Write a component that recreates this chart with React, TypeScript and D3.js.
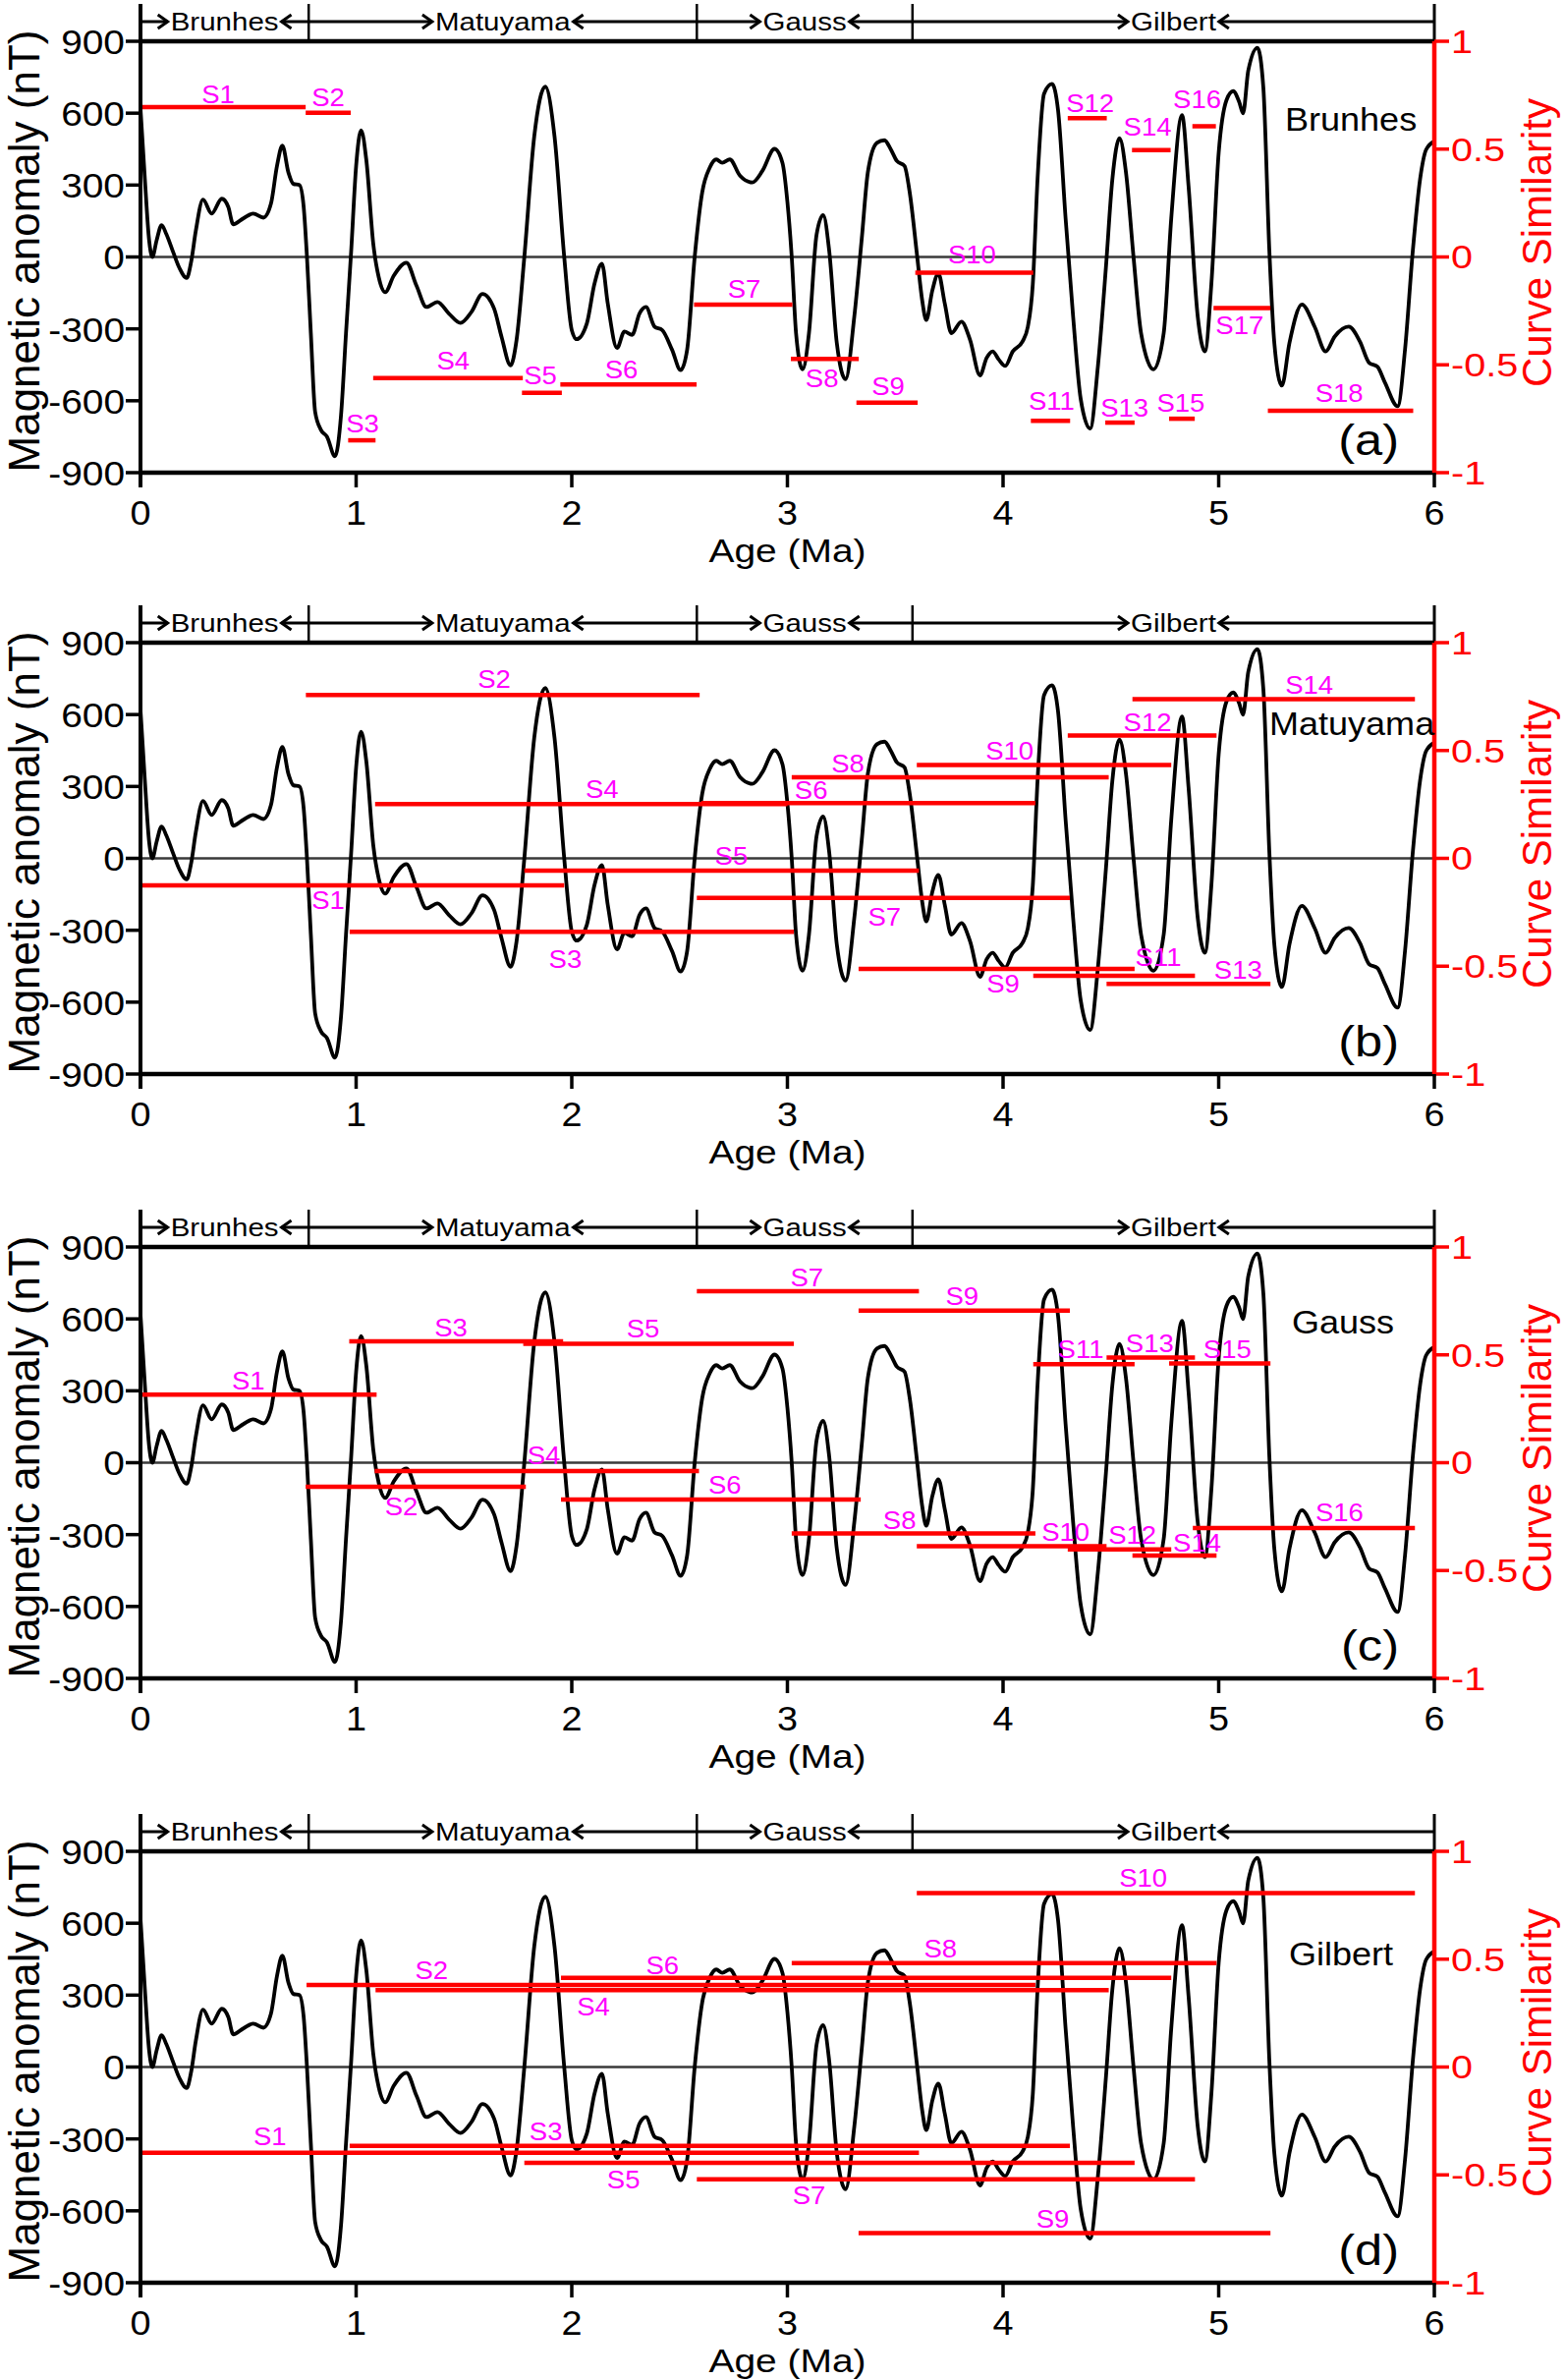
import React from 'react';
import * as d3 from 'd3';

// ---------------- DATA ----------------
const ageTicks = [0, 1, 2, 3, 4, 5, 6];
const nTTicks = [-900, -600, -300, 0, 300, 600, 900];
const simTicks = [-1, -0.5, 0, 0.5, 1];
const simTickLabels = ['-1', '-0.5', '0', '0.5', '1'];

const periodBounds = [0, 0.78, 2.58, 3.58, 6];
const periodNames = ['Brunhes', 'Matuyama', 'Gauss', 'Gilbert'];

const templateNames = ['Brunhes', 'Matuyama', 'Gauss', 'Gilbert'];
const panelLetters = ['(a)', '(b)', '(c)', '(d)'];

const anomalyAge = [
  0, 0.02, 0.04, 0.055, 0.075, 0.098, 0.12, 0.15, 0.18, 0.214, 0.235, 0.256, 0.29, 0.33, 0.377, 0.407, 0.43,
  0.477, 0.523, 0.57, 0.605, 0.633, 0.658, 0.686, 0.709, 0.737, 0.756, 0.772, 0.79, 0.81, 0.837, 0.865, 0.902,
  0.93, 0.953, 0.977, 1.0, 1.023, 1.047, 1.08, 1.105, 1.135, 1.174, 1.233, 1.28, 1.326, 1.377, 1.43, 1.484,
  1.535, 1.586, 1.64, 1.674, 1.716, 1.744, 1.78, 1.826, 1.877, 1.92, 1.965, 2.0, 2.023, 2.07, 2.105, 2.14,
  2.167, 2.21, 2.244, 2.28, 2.314, 2.344, 2.384, 2.419, 2.465, 2.505, 2.535, 2.57, 2.605, 2.64, 2.67, 2.698,
  2.733, 2.78, 2.837, 2.884, 2.94, 2.977, 3.0, 3.02, 3.04, 3.07, 3.1, 3.135, 3.166, 3.194, 3.229, 3.27, 3.31,
  3.345, 3.373, 3.415, 3.45, 3.48, 3.508, 3.543, 3.567, 3.602, 3.625, 3.644, 3.672, 3.7, 3.73, 3.76, 3.807,
  3.847, 3.893, 3.924, 3.952, 3.98, 4.01, 4.045, 4.09, 4.115, 4.138, 4.16, 4.19, 4.227, 4.255, 4.29, 4.325,
  4.36, 4.404, 4.44, 4.477, 4.507, 4.54, 4.57, 4.605, 4.64, 4.698, 4.745, 4.78, 4.83, 4.86, 4.903, 4.936,
  4.966, 5.0, 5.036, 5.067, 5.095, 5.113, 5.137, 5.18, 5.207, 5.235, 5.258, 5.293, 5.328, 5.386, 5.445,
  5.496, 5.538, 5.603, 5.655, 5.697, 5.736, 5.771, 5.83, 5.864, 5.9, 5.934, 5.962, 6.0,
];
const anomalyNT = [
  620, 330, 70, 0, 70, 133, 95, 24, -45, -88, -20, 106, 239, 181, 243, 209, 136,
  161, 181, 164, 222, 380, 465, 352, 305, 300, 216, 0, -318, -647, -722, -750, -832,
  -660, -318, 24, 380, 528, 407, 51, -85, -147, -79, -24, -120, -209, -188, -236, -275,
  -229, -154, -216, -332, -452, -346, 0, 503, 711, 503, 0, -305, -343, -277, -113, -28,
  -195, -380, -311, -325, -236, -209, -291, -305, -387, -472, -387, 0, 270, 373, 407, 393,
  407, 339, 311, 359, 451, 393, 229, 0, -318, -469, -318, 92, 175, 24, -359, -510, -250,
  79, 353, 476, 487, 448, 400, 380, 270, 0, -181, -263, -140, -69, -195, -318, -270,
  -346, -494, -421, -394, -428, -455, -394, -353, -291, -113, 325, 681, 722, 613, 161, -250,
  -592, -716, -455, -44, 325, 496, 353, 0, -318, -469, -318, 161, 592, 298, -250, -394,
  -113, 435, 654, 692, 647, 599, 777, 873, 708, 24, -359, -537, -359, -198, -291,
  -394, -332, -291, -353, -441, -458, -524, -623, -387, 24, 325, 448, 483,
];

// segments: [start age, end age, similarity]
const segmentsA = [
  [0, 0.766, 0.695], [0.766, 0.975, 0.669], [0.963, 1.09, -0.85], [1.079, 1.773, -0.562],
  [1.769, 1.954, -0.63], [1.947, 2.579, -0.591], [2.567, 3.023, -0.221], [3.016, 3.331, -0.473],
  [3.32, 3.604, -0.675], [3.593, 4.14, -0.073], [4.129, 4.311, -0.76], [4.3, 4.481, 0.644],
  [4.474, 4.61, -0.768], [4.598, 4.777, 0.495], [4.77, 4.889, -0.75], [4.878, 4.987, 0.606],
  [4.976, 5.24, -0.237], [5.228, 5.902, -0.713],
];
const labelsA = [
  [0.36, 0.714], [0.87, 0.699], [1.03, -0.812], [1.45, -0.522], [1.854, -0.592], [2.23, -0.562],
  [2.8, -0.191], [3.16, -0.603], [3.467, -0.641], [3.856, -0.031], [4.225, -0.707], [4.404, 0.672],
  [4.563, -0.74], [4.67, 0.562], [4.824, -0.718], [4.9, 0.69], [5.097, -0.359], [5.559, -0.672],
];
const segmentsB = [
  [0, 1.965, -0.125], [0.767, 2.593, 0.757], [0.97, 3.03, -0.341], [1.088, 3.0, 0.252],
  [1.78, 3.61, -0.057], [2.6, 4.15, 0.256], [2.58, 4.31, -0.183], [3.02, 4.49, 0.376],
  [3.33, 4.61, -0.513], [3.6, 4.78, 0.433], [4.14, 4.89, -0.544], [4.3, 4.99, 0.57],
  [4.48, 5.24, -0.582], [4.6, 5.91, 0.738],
];
const labelsB = [
  [0.87, -0.235], [1.64, 0.79], [1.97, -0.509], [2.14, 0.282], [2.74, -0.031], [3.11, 0.275],
  [3.45, -0.31], [3.28, 0.398], [4.0, -0.62], [4.03, 0.456], [4.72, -0.498], [4.67, 0.589],
  [5.09, -0.559], [5.42, 0.764],
];
const segmentsC = [
  [0, 1.095, 0.316], [0.766, 1.787, -0.112], [0.968, 1.96, 0.563], [1.086, 2.59, -0.039],
  [1.775, 3.03, 0.551], [1.95, 3.34, -0.171], [2.58, 3.61, 0.795], [3.02, 4.15, -0.328],
  [3.33, 4.31, 0.705], [3.6, 4.48, -0.387], [4.14, 4.61, 0.457], [4.3, 4.78, -0.402],
  [4.48, 4.89, 0.487], [4.6, 4.99, -0.43], [4.77, 5.24, 0.46], [4.88, 5.91, -0.303],
];
const labelsC = [
  [0.5, 0.338], [1.21, -0.244], [1.44, 0.586], [1.87, -0.008], [2.33, 0.582], [2.71, -0.145],
  [3.09, 0.817], [3.52, -0.308], [3.81, 0.73], [4.29, -0.361], [4.36, 0.483], [4.6, -0.376],
  [4.68, 0.513], [4.9, -0.411], [5.04, 0.486], [5.56, -0.27],
];
const segmentsD = [
  [0, 3.61, -0.397], [0.77, 4.15, 0.38], [0.97, 4.31, -0.366], [1.09, 4.49, 0.356],
  [1.78, 4.61, -0.444], [1.95, 4.78, 0.414], [2.58, 4.89, -0.52], [3.02, 4.99, 0.482],
  [3.33, 5.24, -0.77], [3.6, 5.91, 0.806],
];
const labelsD = [
  [0.6, -0.36], [1.35, 0.409], [1.88, -0.34], [2.1, 0.238], [2.24, -0.561], [2.42, 0.429],
  [3.1, -0.634], [3.71, 0.508], [4.23, -0.747], [4.65, 0.837],
];

const panelSegments = [segmentsA, segmentsB, segmentsC, segmentsD];
const panelLabels = [labelsA, labelsB, labelsC, labelsD];

// ---------------- LAYOUT ----------------
const W = 1593;
const H = 2422;
const X0 = 143;
const X1 = 1460;
const PLOT_H = 439;
const PANEL_TOPS = [42, 654, 1269, 1884];
const TEMPLATE_X = [1308, 1292, 1315, 1312];
const TEMPLATE_BASE = [91, 94, 88, 116];
const FONT = "'Liberation Sans', Arial, Helvetica, sans-serif";
const RED = '#ff0000';
const MAGENTA = '#ff00ff';

let ctx: CanvasRenderingContext2D | null = null;
function textWidth(t: string, size: number): number {
  if (!ctx) ctx = document.createElement('canvas').getContext('2d');
  if (!ctx) return t.length * size * 0.55;
  ctx.font = `${size}px ${FONT}`;
  return ctx.measureText(t).width;
}

function SText(props: {
  x: number; y: number; sx?: number; size: number; anchor?: string; fill?: string; dy?: string; children: any;
}) {
  const { x, y, sx = 1, size, anchor = 'start', fill = '#000', dy, children } = props;
  return (
    <text
      transform={`translate(${x},${y}) scale(${sx},1)`}
      fontSize={size}
      textAnchor={anchor as any}
      fill={fill}
      dy={dy}
      fontFamily={FONT}
    >
      {children}
    </text>
  );
}

function Panel({ idx }: { idx: number }) {
  const top = PANEL_TOPS[idx];
  const bottom = top + PLOT_H;
  const x = d3.scaleLinear().domain([0, 6]).range([X0, X1]);
  const y = d3.scaleLinear().domain([-900, 900]).range([bottom, top]);
  const ys = d3.scaleLinear().domain([-1, 1]).range([bottom, top]);
  const pts = anomalyAge.map((a, i) => [a, anomalyNT[i]] as [number, number]);
  const path = d3
    .line<[number, number]>()
    .x((d) => x(d[0]))
    .y((d) => y(d[1]))
    .curve(d3.curveMonotoneX)(pts) as string;
  const segs = panelSegments[idx];
  const labs = panelLabels[idx];

  const barTop = top - 38;
  const arrowY = top - 20;
  const pSize = 25;
  const pSx = 1.18;

  return (
    <g>
      {/* period bar */}
      {periodBounds.slice(1, 4).map((b, i) => (
        <line key={'pb' + i} x1={x(b)} x2={x(b)} y1={barTop} y2={top} stroke="#000" strokeWidth={2.5} />
      ))}
      <line x1={x(6)} x2={x(6)} y1={barTop} y2={top} stroke="#000" strokeWidth={3} />
      {periodNames.map((name, i) => {
        const a = x(periodBounds[i]);
        const b = x(periodBounds[i + 1]);
        const cx = (a + b) / 2;
        const w = textWidth(name, pSize) * pSx;
        const l = cx - w / 2 - 3;
        const r = cx + w / 2 + 3;
        return (
          <g key={'pn' + i}>
            <line x1={a} x2={l} y1={arrowY} y2={arrowY} stroke="#000" strokeWidth={3} />
            <path d={`M${l - 10},${arrowY - 7} L${l},${arrowY} L${l - 10},${arrowY + 7}`} fill="none" stroke="#000" strokeWidth={3} />
            <line x1={r} x2={b} y1={arrowY} y2={arrowY} stroke="#000" strokeWidth={3} />
            <path d={`M${r + 10},${arrowY - 7} L${r},${arrowY} L${r + 10},${arrowY + 7}`} fill="none" stroke="#000" strokeWidth={3} />
            <SText x={cx} y={top - 11} sx={pSx} size={pSize} anchor="middle">{name}</SText>
          </g>
        );
      })}

      {/* zero line */}
      <line x1={X0} x2={X1} y1={y(0)} y2={y(0)} stroke="#3a3a3a" strokeWidth={2.4} />

      {/* curve */}
      <path d={path} fill="none" stroke="#000" strokeWidth={3.8} strokeLinejoin="round" />

      {/* similarity segments */}
      {segs.map((s, i) => (
        <line key={'s' + i} x1={x(s[0])} x2={x(s[1])} y1={ys(s[2])} y2={ys(s[2])} stroke={RED} strokeWidth={4.5} />
      ))}
      {labs.map((l, i) => (
        <SText key={'l' + i} x={x(l[0])} y={ys(l[1])} sx={1.1} size={25} anchor="middle" fill={MAGENTA}>
          {'S' + (i + 1)}
        </SText>
      ))}

      {/* frame */}
      <line x1={X0} x2={X1} y1={top} y2={top} stroke="#000" strokeWidth={4.5} />
      <line x1={X0} x2={X1 + 2} y1={bottom} y2={bottom} stroke="#000" strokeWidth={4.5} />
      <line x1={X0} x2={X0} y1={barTop} y2={bottom + 15} stroke="#000" strokeWidth={4} />
      <line x1={X1} x2={X1} y1={top} y2={bottom} stroke={RED} strokeWidth={4.5} />

      {/* left ticks */}
      {nTTicks.map((t) => (
        <g key={'lt' + t}>
          <line x1={X0 - 15} x2={X0} y1={y(t)} y2={y(t)} stroke="#000" strokeWidth={3.5} />
          <SText x={X0 - 16} y={y(t)} sx={1.08} size={36} anchor="end" dy="0.36em">{String(t)}</SText>
        </g>
      ))}
      {/* right ticks */}
      {simTicks.map((t, i) => (
        <g key={'rt' + t}>
          <line x1={X1} x2={X1 + 15} y1={ys(t)} y2={ys(t)} stroke={RED} strokeWidth={3.5} />
          <SText x={X1 + 17} y={ys(t)} sx={1.2} size={33} anchor="start" fill={RED} dy="0.36em">{simTickLabels[i]}</SText>
        </g>
      ))}
      {/* bottom ticks */}
      {ageTicks.map((t) => (
        <g key={'bt' + t}>
          <line x1={x(t)} x2={x(t)} y1={bottom} y2={bottom + 15} stroke="#000" strokeWidth={3.5} />
          <SText x={x(t)} y={bottom + 53} sx={1.08} size={35} anchor="middle">{String(t)}</SText>
        </g>
      ))}

      {/* titles */}
      <text
        transform={`translate(40,${top + PLOT_H / 2 - 6}) rotate(-90)`}
        fontSize={44}
        textAnchor="middle"
        fontFamily={FONT}
        fill="#000"
      >
        Magnetic anomaly (nT)
      </text>
      <text
        transform={`translate(1579,${top + 205}) rotate(-90)`}
        fontSize={42}
        textAnchor="middle"
        fontFamily={FONT}
        fill={RED}
      >
        Curve Similarity
      </text>
      <SText x={(X0 + X1) / 2} y={bottom + 91} sx={1.18} size={33} anchor="middle">Age (Ma)</SText>

      {/* template name and panel letter */}
      <SText x={TEMPLATE_X[idx]} y={top + TEMPLATE_BASE[idx]} sx={1.06} size={34}>{templateNames[idx]}</SText>
      <SText x={1424} y={top + 421} sx={1.15} size={44} anchor="end">{panelLetters[idx]}</SText>
    </g>
  );
}

export default function App() {
  return (
    <svg
      width={W}
      height={H}
      viewBox={`0 0 ${W} ${H}`}
      style={{ position: 'absolute', left: 0, top: 0, background: '#fff' }}
    >
      <rect x={0} y={0} width={W} height={H} fill="#fff" />
      {[0, 1, 2, 3].map((i) => (
        <Panel key={i} idx={i} />
      ))}
    </svg>
  );
}
